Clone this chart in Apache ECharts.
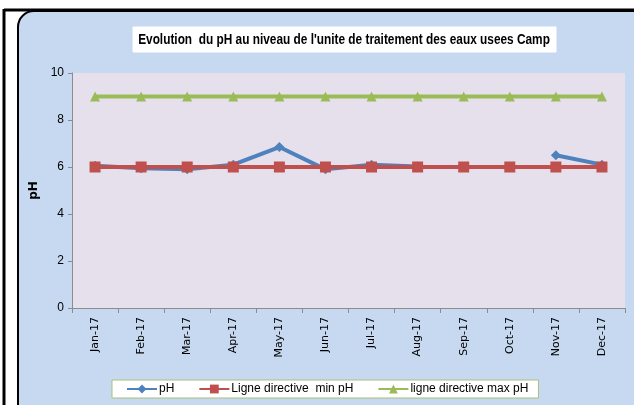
<!DOCTYPE html>
<html>
<head>
<meta charset="utf-8">
<script src="https://cdn.jsdelivr.net/npm/echarts@6/dist/echarts.min.js"></script>
<style>
  html, body { margin: 0; padding: 0; background: #fff; }
  #chart { width: 634px; height: 405px; }
</style>
</head>
<body>
<div id="chart"></div>
<script>
// données
let mois = ['Jan-17', 'Feb-17', 'Mar-17', 'Apr-17', 'May-17', 'Jun-17', 'Jul-17', 'Aug-17', 'Sep-17', 'Oct-17', 'Nov-17', 'Dec-17'];
let phValeurs = [6.05, 5.95, 5.9, 6.1, 6.85, 5.9, 6.1, 6.02, null, null, 6.5, 6.1];
let minPh = [6, 6, 6, 6, 6, 6, 6, 6, 6, 6, 6, 6];
let maxPh = [9, 9, 9, 9, 9, 9, 9, 9, 9, 9, 9, 9];
let yTicks = [0, 2, 4, 6, 8, 10];
let titre = "Evolution  du pH au niveau de l'unite de traitement des eaux usees Camp";

let police = '"Liberation Sans", Arial, sans-serif';

let chart = echarts.init(document.getElementById('chart'));
let option = {
    backgroundColor: '#ffffff',
    graphic: [
        // cadre extérieur
        { type: 'line', shape: { x1: 4, y1: 9, x2: 4, y2: 405 }, style: { stroke: '#000', lineWidth: 3 }, z: -10 },
        { type: 'line', shape: { x1: 4, y1: 10, x2: 634, y2: 10 }, style: { stroke: '#000', lineWidth: 3 }, z: -10 },
        // zone du graphique arrondie
        { type: 'rect', shape: { x: 18, y: 11, width: 640, height: 420, r: 16 },
          style: { fill: '#c6d9f0', stroke: '#000', lineWidth: 2 }, z: -9 },
        // boite du titre
        { type: 'rect', shape: { x: 133, y: 27, width: 423, height: 25 },
          style: { fill: '#ffffff', stroke: '#ffffff' }, z: -8 },
        // titre (police condensée simulée)
        { type: 'text', x: 344, y: 40, scaleX: 0.79, z: 10,
          style: { text: titre, fontFamily: police, fontSize: 15, fontWeight: 'bold', fill: '#000',
                   textAlign: 'center', textVerticalAlign: 'middle' } }
    ],
    legend: {
        left: 112,
        top: 380,
        width: 432,
        height: 17,
        padding: [3, 10, 3, 14],
        backgroundColor: '#ffffff',
        borderColor: '#a9c07a',
        borderWidth: 1,
        itemWidth: 30,
        itemHeight: 11,
        itemGap: 24,
        textStyle: { fontFamily: police, fontSize: 12, color: '#000', padding: [0, 0, 0, -3] },
        data: ['pH', 'Ligne directive  min pH', 'ligne directive max pH']
    },
    grid: {
        left: 72,
        right: 9,
        top: 73,
        bottom: 97,
        show: true,
        backgroundColor: '#e6e0ec',
        borderWidth: 0
    },
    xAxis: {
        type: 'category',
        data: mois,
        boundaryGap: true,
        axisLine: { lineStyle: { color: '#8c8c8c', width: 1 } },
        axisTick: { show: true, length: 5, lineStyle: { color: '#8c8c8c' } },
        axisLabel: { rotate: 90, fontSize: 11, color: '#000', margin: 9, fontFamily: '"DejaVu Sans", sans-serif' },
        splitLine: { show: false }
    },
    yAxis: {
        type: 'value',
        min: yTicks[0],
        max: yTicks[yTicks.length - 1],
        interval: 2,
        name: 'pH',
        nameLocation: 'middle',
        nameGap: 32,
        nameRotate: 90,
        nameTextStyle: { fontWeight: 'bold', fontSize: 12, color: '#000', fontFamily: '"DejaVu Sans", sans-serif' },
        axisLine: { show: true, lineStyle: { color: '#8c8c8c' } },
        axisTick: { show: true, length: 4, lineStyle: { color: '#8c8c8c' } },
        axisLabel: { fontSize: 12, color: '#000', margin: 8, fontFamily: police },
        splitLine: { show: false }
    },
    series: [
        {
            name: 'pH',
            type: 'line',
            data: phValeurs,
            connectNulls: false,
            symbol: 'diamond',
            symbolSize: 10,
            itemStyle: { color: '#4f81bd' },
            lineStyle: { color: '#4f81bd', width: 4 },
            z: 3
        },
        {
            name: 'Ligne directive  min pH',
            type: 'line',
            data: minPh,
            symbol: 'rect',
            symbolSize: 11,
            itemStyle: { color: '#c0504d' },
            lineStyle: { color: '#c0504d', width: 4 },
            z: 4
        },
        {
            name: 'ligne directive max pH',
            type: 'line',
            data: maxPh,
            symbol: 'triangle',
            symbolSize: 10,
            itemStyle: { color: '#9bbb59' },
            lineStyle: { color: '#9bbb59', width: 4 },
            z: 2
        }
    ],
    animation: false
};
chart.setOption(option);
</script>
</body>
</html>
